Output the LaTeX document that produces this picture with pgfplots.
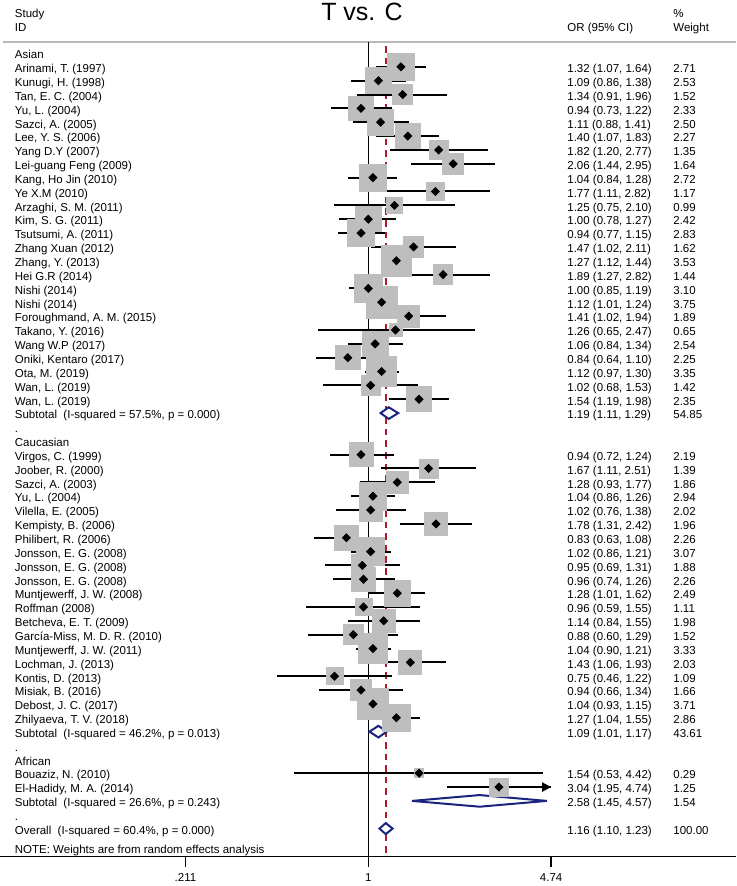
\documentclass[border=0pt]{standalone}
\usepackage{pgfplots}
\pgfplotsset{compat=1.18}
\usepackage{pgfplotstable}
\usepackage{fontspec}
\setmainfont{Liberation Sans}
\usetikzlibrary{arrows.meta}
\definecolor{boxgray}{RGB}{190,190,190}
\definecolor{rulegray}{RGB}{185,185,185}
\definecolor{dnavy}{RGB}{26,35,126}
\definecolor{dred}{RGB}{175,25,40}
\newcommand\fs{\fontsize{5.75pt}{6.9pt}\selectfont}
\newcommand\pn[1]{\pgfmathprintnumber[fixed,fixed zerofill,precision=2,assume math mode=true]{#1}}
\tikzset{txt/.style={anchor=west, inner sep=0pt, font=\fs, text height=0.716em, text depth=0pt, black, yshift=0.7pt}}

\pgfplotstableread[col sep=semicolon]{
row;name;or;lo;hi;w
2;Arinami, T. (1997);1.32;1.07;1.64;2.71
3;Kunugi, H. (1998);1.09;0.86;1.38;2.53
4;Tan, E. C. (2004);1.34;0.91;1.96;1.52
5;Yu, L. (2004);0.94;0.73;1.22;2.33
6;Sazci, A. (2005);1.11;0.88;1.41;2.50
7;Lee, Y. S. (2006);1.40;1.07;1.83;2.27
8;Yang D.Y (2007);1.82;1.20;2.77;1.35
9;Lei-guang Feng (2009);2.06;1.44;2.95;1.64
10;Kang, Ho Jin (2010);1.04;0.84;1.28;2.72
11;Ye X.M (2010);1.77;1.11;2.82;1.17
12;Arzaghi, S. M. (2011);1.25;0.75;2.10;0.99
13;Kim, S. G. (2011);1.00;0.78;1.27;2.42
14;Tsutsumi, A. (2011);0.94;0.77;1.15;2.83
15;Zhang Xuan (2012);1.47;1.02;2.11;1.62
16;Zhang, Y. (2013);1.27;1.12;1.44;3.53
17;Hei G.R (2014);1.89;1.27;2.82;1.44
18;Nishi (2014);1.00;0.85;1.19;3.10
19;Nishi (2014);1.12;1.01;1.24;3.75
20;Foroughmand, A. M. (2015);1.41;1.02;1.94;1.89
21;Takano, Y. (2016);1.26;0.65;2.47;0.65
22;Wang W.P (2017);1.06;0.84;1.34;2.54
23;Oniki, Kentaro (2017);0.84;0.64;1.10;2.25
24;Ota, M. (2019);1.12;0.97;1.30;3.35
25;Wan, L. (2019);1.02;0.68;1.53;1.42
26;Wan, L. (2019);1.54;1.19;1.98;2.35
30;Virgos, C. (1999);0.94;0.72;1.24;2.19
31;Joober, R. (2000);1.67;1.11;2.51;1.39
32;Sazci, A. (2003);1.28;0.93;1.77;1.86
33;Yu, L. (2004);1.04;0.86;1.26;2.94
34;Vilella, E. (2005);1.02;0.76;1.38;2.02
35;Kempisty, B. (2006);1.78;1.31;2.42;1.96
36;Philibert, R. (2006);0.83;0.63;1.08;2.26
37;Jonsson, E. G. (2008);1.02;0.86;1.21;3.07
38;Jonsson, E. G. (2008);0.95;0.69;1.31;1.88
39;Jonsson, E. G. (2008);0.96;0.74;1.26;2.26
40;Muntjewerff, J. W. (2008);1.28;1.01;1.62;2.49
41;Roffman (2008);0.96;0.59;1.55;1.11
42;Betcheva, E. T. (2009);1.14;0.84;1.55;1.98
43;García-Miss, M. D. R. (2010);0.88;0.60;1.29;1.52
44;Muntjewerff, J. W. (2011);1.04;0.90;1.21;3.33
45;Lochman, J. (2013);1.43;1.06;1.93;2.03
46;Kontis, D. (2013);0.75;0.46;1.22;1.09
47;Misiak, B. (2016);0.94;0.66;1.34;1.66
48;Debost, J. C. (2017);1.04;0.93;1.15;3.71
49;Zhilyaeva, T. V. (2018);1.27;1.04;1.55;2.86
53;Bouaziz, N. (2010);1.54;0.53;4.42;0.29
54;El-Hadidy, M. A. (2014);3.04;1.95;4.74;1.25
}\studies

\pgfplotstableread[col sep=semicolon]{
row;name;or;lo;hi;w
27;Subtotal\ \ (I-squared = 57.5\%, p = 0.000);1.19;1.11;1.29;54.85
50;Subtotal\ \ (I-squared = 46.2\%, p = 0.013);1.09;1.01;1.17;43.61
55;Subtotal\ \ (I-squared = 26.6\%, p = 0.243);2.58;1.45;4.57;1.54
57;Overall\ \ (I-squared = 60.4\%, p = 0.000);1.16;1.10;1.23;100.00
}\pooled

\pgfplotstableread[col sep=semicolon]{
row;name
1;Asian
28;.
29;Caucasian
51;.
52;African
56;.
58.4;NOTE: Weights are from random effects analysis
}\grouplabels

\begin{document}
\begin{tikzpicture}
\useasboundingbox (0,0) rectangle (368pt,-443pt);
\begin{axis}[
  at={(0,0)}, anchor=north west,
  scale only axis, width=368pt, height=428.35pt,
  xmode=log, xmin=0.043523, xmax=22.860,
  ymin=-59.029, ymax=2.8267,
  axis y line=none, axis x line*=bottom,
  x axis line style={-, line width=0.75pt, black},
  xtick={0.211,1,4.74}, xticklabels={.211,1,4.74},
  xminorticks=false,
  tick align=outside, major tick length=5pt,
  xtick style={black, line width=0.75pt},
  xticklabel style={font=\fs, inner sep=0pt, text height=0.716em, text depth=0pt},
  clip=false,
  nodes near coords align={anchor=west},
  every node near coord/.append style={inner sep=0pt, font=\fs, text height=0.716em, text depth=0pt, black, yshift=0.7pt},
]
% reference lines
\draw[rulegray, line width=1pt] (axis cs:0.04465,-0.2058) -- (axis cs:22.86,-0.2058);
\addplot[black, line width=0.7pt] coordinates {(1,-0.2058) (1,-59.029)};
\addplot[dred, line width=0.85pt, dash pattern=on 3.3pt off 2.5pt] coordinates {(1.16,-0.4946) (1.16,-59.029)};

% weight boxes
\addplot[scatter, only marks, mark=square*, point meta=explicit,
  scatter/use mapped color={draw=boxgray, fill=boxgray},
  visualization depends on={4.05*sqrt(\thisrow{w})\as\bs},
  scatter/@pre marker code/.append style={/tikz/mark size=\bs}]
  table[x=or, y expr=-\thisrow{row}, meta=w] {\studies};

% confidence intervals and point estimates
\addplot[only marks, mark=diamond*, mark size=2pt,
  mark options={black, fill=black, xscale=1.33},
  error bars/.cd, x dir=both, x explicit, error mark=none,
  error bar style={black, line width=1pt}]
  table[x=or, y expr=-\thisrow{row},
        x error plus expr=\thisrow{hi}-\thisrow{or},
        x error minus expr=\thisrow{or}-\thisrow{lo}] {\studies};
\addplot[black, line width=1pt, -{Triangle[length=4.5pt,width=4.5pt]}] coordinates {(4.0,-54) (4.74,-54)};

% pooled diamonds
\addplot[dnavy, line width=1pt, fill=white] coordinates {(1.11,-27) (1.19,-26.58) (1.29,-27) (1.19,-27.42)} -- cycle;
\addplot[dnavy, line width=1pt, fill=white] coordinates {(1.01,-50) (1.09,-49.58) (1.17,-50) (1.09,-50.42)} -- cycle;
\addplot[dnavy, line width=1pt, fill=white] coordinates {(1.45,-55) (2.58,-54.58) (4.57,-55) (2.58,-55.42)} -- cycle;
\addplot[dnavy, line width=1pt, fill=white] coordinates {(1.10,-57) (1.16,-56.6) (1.23,-57) (1.16,-57.4)} -- cycle;

% text columns
\addplot[only marks, mark=none, point meta=explicit symbolic, nodes near coords]
  table[x expr=0.04925, y expr=-\thisrow{row}, meta=name] {\studies};
\addplot[only marks, mark=none, point meta=explicit symbolic, nodes near coords]
  table[x expr=0.04925, y expr=-\thisrow{row}, meta=name] {\pooled};
\addplot[only marks, mark=none, point meta=explicit symbolic, nodes near coords]
  table[x expr=0.04925, y expr=-\thisrow{row}, meta=name] {\grouplabels};

\addplot[only marks, mark=none,
  visualization depends on={\thisrow{or}\as\vor},
  visualization depends on={\thisrow{lo}\as\vlo},
  visualization depends on={\thisrow{hi}\as\vhi},
  nodes near coords={\pn{\vor}\ (\pn{\vlo}, \pn{\vhi})}]
  table[x expr=5.425, y expr=-\thisrow{row}] {\studies};
\addplot[only marks, mark=none,
  visualization depends on={\thisrow{or}\as\vor},
  visualization depends on={\thisrow{lo}\as\vlo},
  visualization depends on={\thisrow{hi}\as\vhi},
  nodes near coords={\pn{\vor}\ (\pn{\vlo}, \pn{\vhi})}]
  table[x expr=5.425, y expr=-\thisrow{row}] {\pooled};
\addplot[only marks, mark=none,
  visualization depends on={\thisrow{w}\as\vw},
  nodes near coords={\pn{\vw}}]
  table[x expr=13.37, y expr=-\thisrow{row}] {\studies};
\addplot[only marks, mark=none,
  visualization depends on={\thisrow{w}\as\vw},
  nodes near coords={\pn{\vw}}]
  table[x expr=13.37, y expr=-\thisrow{row}] {\pooled};

% header
\node[txt] at (axis cs:0.04925,2.0) {Study};
\node[txt] at (axis cs:0.04925,0.95) {ID};
\node[txt] at (axis cs:5.425,0.95) {OR (95\% CI)};
\node[txt] at (axis cs:13.37,2.0) {\%};
\node[txt] at (axis cs:13.37,0.95) {Weight};
\node[inner sep=0pt, font=\fontsize{12.5pt}{14pt}\selectfont, text height=0.716em, text depth=0pt] at (axis cs:0.9478,1.85) {T vs. C};
\end{axis}
\end{tikzpicture}
\end{document}
